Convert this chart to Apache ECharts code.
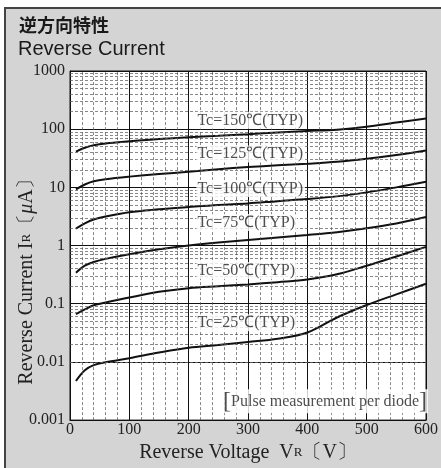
<!DOCTYPE html>
<html>
<head>
<meta charset="utf-8">
<script src="https://cdn.jsdelivr.net/npm/echarts@6/dist/echarts.min.js"></script>
<style>
html,body{margin:0;padding:0;background:#fff;}
#frame{position:absolute;left:4px;top:7px;width:437px;height:461px;border-left:2px solid #444;border-top:2px solid #444;background:#d4d4d4;box-sizing:border-box;}
#chart{position:absolute;left:0;top:0;width:441px;height:468px;}
</style>
</head>
<body>
<div id="frame"></div>
<div id="chart"></div>
<script>
// ---- data ----
const voltages = [10, 25, 40, 60, 100, 150, 200, 250, 300, 350, 400, 450, 500, 550, 600];
const ir150 = [41, 48, 53, 57, 62, 68, 73, 77, 82, 88, 93, 98, 110, 130, 152];
const ir125 = [9.2, 11.2, 12.7, 13.8, 15.3, 17, 18.5, 20.5, 22.3, 24, 25.5, 27.5, 31, 36, 43];
const ir100 = [1.95, 2.4, 2.8, 3.15, 3.75, 4.2, 4.6, 5, 5.3, 5.8, 6.3, 7, 8.2, 10, 12.5];
const ir75 = [0.34, 0.45, 0.52, 0.59, 0.71, 0.86, 1.0, 1.13, 1.25, 1.38, 1.52, 1.7, 1.98, 2.4, 3.1];
const ir50 = [0.066, 0.08, 0.094, 0.105, 0.128, 0.16, 0.185, 0.2, 0.215, 0.235, 0.26, 0.32, 0.45, 0.65, 0.95];
const ir25 = [0.0047, 0.0072, 0.0088, 0.0099, 0.0116, 0.0145, 0.0175, 0.0195, 0.022, 0.025, 0.032, 0.058, 0.095, 0.145, 0.22];
const curveNames = ['Tc=150℃(TYP)', 'Tc=125℃(TYP)', 'Tc=100℃(TYP)', 'Tc=75℃(TYP)', 'Tc=50℃(TYP)', 'Tc=25℃(TYP)'];
const labelV = [213, 213, 213, 213, 213, 213];
const labelI = [142, 37.5, 9.6, 2.49, 0.371, 0.047];
const noteText = 'Pulse measurement per diode';
const noteV = 258, noteI = 0.0021;
const yTickLabels = ['0.001', '0.01', '0.1', '1', '10', '100', '1000'];
const xTickLabels = ['0', '100', '200', '300', '400', '500', '600'];
const yDecades = [0.001, 0.01, 0.1, 1, 10, 100];
const yMinorMult = [2, 3, 4, 5, 6, 7, 8, 9];
const xMinorStep = 20;

// ---- build ----
const serif = '"Liberation Serif", "Times New Roman", serif';
const curves = [ir150, ir125, ir100, ir75, ir50, ir25];
const yMinor = [];
yDecades.forEach(d => yMinorMult.forEach(m => yMinor.push(Number((d * m).toPrecision(3)))));
const xMinor = [];
for (let v = xMinorStep; v < 600; v += xMinorStep) if (v % 100 !== 0) xMinor.push(v);

const minorLine = { color: '#555', width: 0.7, type: [3, 2] };

const series = [];
series.push({
  type: 'line', data: [], z: 1, silent: true,
  markLine: {
    silent: true, symbol: ['none', 'none'], animation: false,
    label: { show: false }, lineStyle: minorLine,
    data: yMinor.map(v => ({ yAxis: v })).concat(xMinor.map(v => ({ xAxis: v })))
  }
});
curves.forEach((arr, i) => {
  series.push({
    type: 'line', name: curveNames[i], z: 3,
    data: voltages.map((v, k) => [v, arr[k]]),
    smooth: 0.35, symbol: 'none',
    lineStyle: { color: '#111', width: 2 }
  });
});
series.push({
  type: 'scatter', z: 5, symbolSize: 0, silent: true,
  data: curveNames.map((n, i) => ({ value: [labelV[i], labelI[i]], name: n })),
  label: {
    show: true, position: 'right', distance: 0, formatter: p => p.name,
    fontFamily: serif, fontSize: 16, color: '#222',
    backgroundColor: '#fff', padding: [1, 2, 0, 1]
  }
});
series.push({
  type: 'scatter', z: 5, symbolSize: 0, silent: true,
  data: [{ value: [noteV, noteI], name: noteText }],
  label: {
    show: true, position: 'right', distance: 0,
    formatter: p => '{b|[}' + p.name + '{b|]}',
    fontFamily: serif, fontSize: 16, color: '#222',
    backgroundColor: '#fff', padding: [0, 1, 0, 0],
    rich: { b: { fontFamily: serif, fontSize: 24, color: '#222' } }
  }
});

const chart = echarts.init(document.getElementById('chart'), null, { renderer: 'canvas' });
chart.setOption({
  animation: false,
  backgroundColor: 'transparent',
  grid: { left: 70, right: 15, top: 71, bottom: 42, show: true, backgroundColor: '#fff', borderColor: '#111', borderWidth: 1 },
  xAxis: {
    type: 'value', min: 0, max: 600, interval: 100,
    axisLine: { show: true, lineStyle: { color: '#111', width: 1 } },
    axisTick: { show: false },
    splitLine: { show: true, lineStyle: { color: '#111', width: 1 } },
    axisLabel: { fontFamily: serif, fontSize: 16, color: '#222', margin: 2,
      formatter: v => xTickLabels[Math.round(v / 100)] },
    name: 'Reverse Voltage  V{s|R}〔V〕', nameLocation: 'middle', nameGap: 17,
    nameTextStyle: { fontFamily: serif, fontSize: 20, color: '#222',
      rich: { s: { fontFamily: serif, fontSize: 13, color: '#222' } } }
  },
  yAxis: {
    type: 'log', logBase: 10, min: 0.001, max: 1000, splitNumber: 6,
    axisLine: { show: true, lineStyle: { color: '#111', width: 1 } },
    axisTick: { show: false },
    splitLine: { show: true, lineStyle: { color: '#111', width: 1 } },
    axisLabel: { fontFamily: serif, fontSize: 16, color: '#222', margin: 5,
      formatter: v => yTickLabels[Math.round(Math.log10(v)) + 3] }
  },
  graphic: [
    { type: 'text', left: 19, top: 16, style: { text: '逆方向特性', fontFamily: '"Noto Sans CJK JP"', fontWeight: 'bold', fontSize: 18, fill: '#1a1a1a' } },
    { type: 'text', left: 18, top: 39, style: { text: 'Reverse Current', fontFamily: '"Liberation Sans", Arial, sans-serif', fontSize: 20, fill: '#1a1a1a' } },
    { type: 'text', x: 27, y: 277, rotation: Math.PI / 2,
      style: { text: 'Reverse Current I{s|R}〔{m|μ}A〕', fontFamily: serif, fontSize: 20, fill: '#222',
        align: 'center', verticalAlign: 'middle',
        rich: { s: { fontFamily: serif, fontSize: 13, fill: '#222' }, m: { fontFamily: serif, fontStyle: 'italic', fontSize: 20, fill: '#222' } } } }
  ],
  series: series
});
</script>
</body>
</html>
